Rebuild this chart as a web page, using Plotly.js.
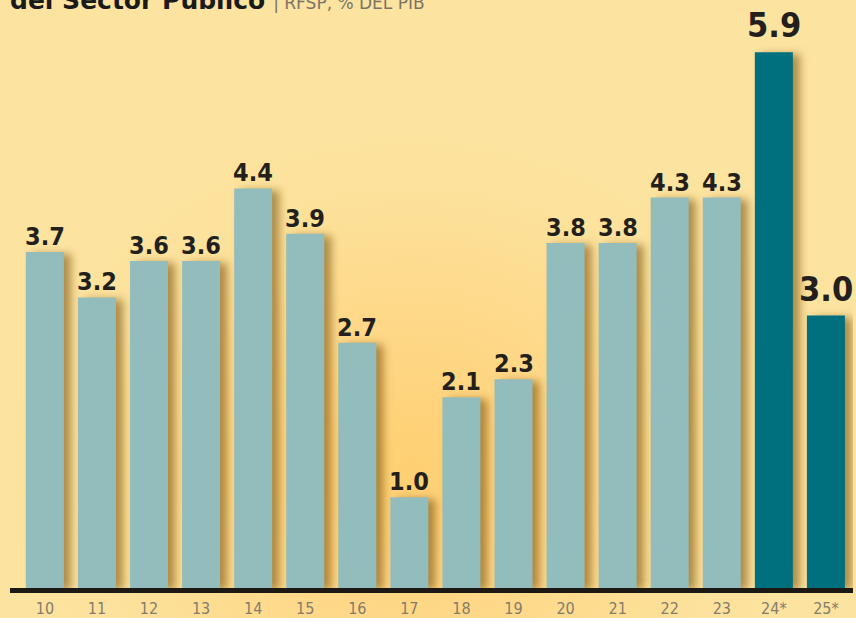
<!DOCTYPE html>
<html><head><meta charset="utf-8">
<script src="https://cdn.plot.ly/plotly-3.0.1.min.js"></script>
<style>
html,body{margin:0;padding:0;}
body{width:856px;height:618px;overflow:hidden;
background: radial-gradient(ellipse 420px 360px at 410px 470px, #FFCF72 0%, #FED98A 45%, #FCE29C 80%, #FCE39F 100%);}
#chart{width:856px;height:618px;}
.barlayer .point path{filter: drop-shadow(7px 2px 4px rgba(110,70,0,0.55));}
</style></head>
<body><div id="chart"></div>
<script>
const categories = ["10","11","12","13","14","15","16","17","18","19","20","21","22","23","24*","25*"];
const values = [3.7,3.2,3.6,3.6,4.4,3.9,2.7,1.0,2.1,2.3,3.8,3.8,4.3,4.3,5.9,3.0];
const labels = ["3.7","3.2","3.6","3.6","4.4","3.9","2.7","1.0","2.1","2.3","3.8","3.8","4.3","4.3","5.9","3.0"];
const highlighted = [false,false,false,false,false,false,false,false,false,false,false,false,false,false,true,true];

const colors = highlighted.map(h => h ? "#00707F" : "#93BDBD");
const xs = categories.map((c,i)=>i);

const annotations = values.map((v,i)=>({
  x: i, y: v, xref:'x', yref:'y', text: labels[i], showarrow:false,
  yanchor:'bottom', xanchor:'center', yshift: highlighted[i] ? 5 : -1,
  font:{family:'"DejaVu Sans Condensed","DejaVu Sans",sans-serif', size: highlighted[i] ? 34 : 25, color:'#231f1c', weight:'bold'}
}));

Plotly.newPlot('chart', [{
  type:'bar', x: xs, y: values, marker:{color: colors, line:{width:0}},
  width: 0.73, hoverinfo:'none', textposition:'none'
}], {
  width:856, height:618,
  paper_bgcolor:'rgba(0,0,0,0)', plot_bgcolor:'rgba(0,0,0,0)',
  margin:{l:10, r:3, t:20, b:30},
  showlegend:false,
  title:{text:'<b>del Sector Público</b> <span style="font-size:17px;color:#7a7468;font-weight:normal">| RFSP, % DEL PIB</span>',
    x:0.0117, xref:'container', xanchor:'left', y:0.985, yref:'container', yanchor:'bottom',
    font:{family:'"DejaVu Sans","Open Sans",sans-serif', size:25, color:'#1a1a1a'}},
  xaxis:{range:[-0.67,15.52], tickmode:'array', tickvals: xs, ticktext: categories,
    showgrid:false, zeroline:false, showline:true, linecolor:'#1c1814', linewidth:5,
    ticks:'', tickfont:{family:'"DejaVu Sans Condensed","DejaVu Sans",sans-serif', size:16, color:'#857c6c'}, ticklabelstandoff:2},
  yaxis:{range:[0,6.255], visible:false, showgrid:false, zeroline:false},
  annotations: annotations
}, {displayModeBar:false, staticPlot:true});
</script></body></html>
